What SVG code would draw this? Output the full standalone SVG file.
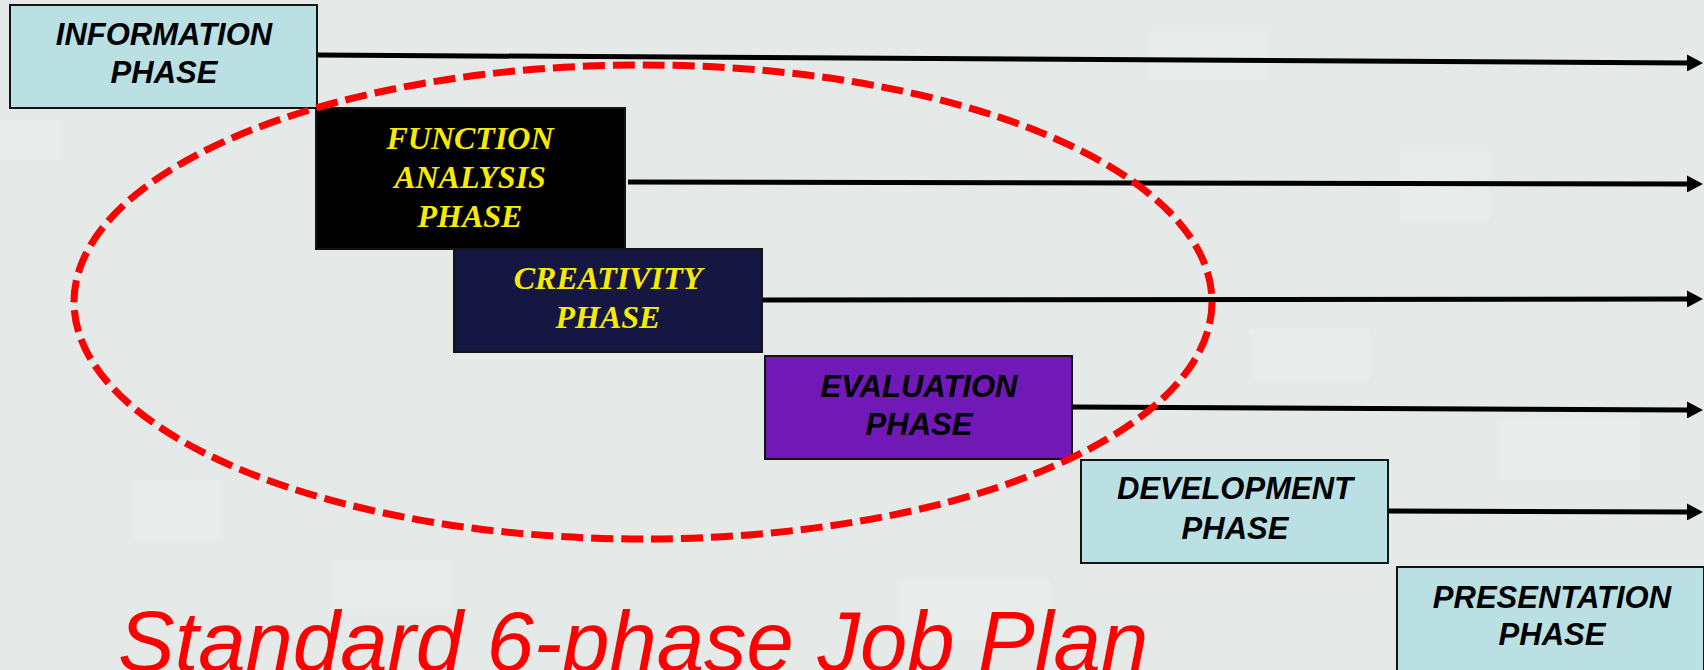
<svg xmlns="http://www.w3.org/2000/svg" width="1704" height="670" viewBox="0 0 1704 670">
  <style>
    .box { stroke: #141414; stroke-width: 2; }
    .light { fill: #bbe0e3; }
    .sans { font-family: "Liberation Sans", Arial, sans-serif; font-weight: bold; font-style: italic; font-size: 31px; fill: #000; text-anchor: middle; }
    .serif { font-family: "Liberation Serif", "Times New Roman", serif; font-weight: bold; font-style: italic; font-size: 32px; fill: #f8eb00; text-anchor: middle; }
    .conn { stroke: #000; stroke-width: 5; fill: none; marker-end: url(#arrow); }
    .title { font-family: "Liberation Sans", Arial, sans-serif; font-style: italic; font-size: 85px; fill: #ff0000; }
  </style>
  <defs>
    <marker id="arrow" markerUnits="userSpaceOnUse" markerWidth="16" markerHeight="17" refX="2" refY="8.5" orient="auto" viewBox="0 0 16 17">
      <path d="M0,0 L16,8.5 L0,17 z" fill="#000"/>
    </marker>
  </defs>

  <rect x="0" y="0" width="1704" height="670" fill="#e5e9e7"/>
  <g id="background-texture" fill="#eef1ef" opacity="0.4">
    <rect x="0" y="120" width="60" height="40"/>
    <rect x="130" y="480" width="90" height="60"/>
    <rect x="330" y="560" width="120" height="50"/>
    <rect x="1150" y="30" width="120" height="50"/>
    <rect x="1400" y="150" width="90" height="70"/>
    <rect x="1250" y="330" width="120" height="50"/>
    <rect x="1500" y="420" width="140" height="60"/>
    <rect x="900" y="580" width="150" height="60"/>
  </g>

  <g id="connectors">
    <line class="conn" x1="317" y1="55" x2="1689" y2="63"/>
    <line class="conn" x1="628" y1="182" x2="1689" y2="184"/>
    <line class="conn" x1="762" y1="300" x2="1689" y2="299"/>
    <line class="conn" x1="1072" y1="407" x2="1689" y2="410"/>
    <line class="conn" x1="1388" y1="511" x2="1689" y2="512"/>
  </g>

  <g id="information-phase">
    <rect class="box light" x="10" y="5" width="307" height="103"/>
    <text class="sans" x="164" y="45">INFORMATION</text>
    <text class="sans" x="164" y="83">PHASE</text>
  </g>

  <g id="function-analysis-phase">
    <rect class="box" x="316" y="108" width="309" height="141" fill="#000"/>
    <text class="serif" x="470" y="149">FUNCTION</text>
    <text class="serif" x="470" y="188">ANALYSIS</text>
    <text class="serif" x="470" y="227">PHASE</text>
  </g>

  <g id="creativity-phase">
    <rect class="box" x="454" y="249" width="308" height="103" fill="#161643"/>
    <text class="serif" x="608" y="289">CREATIVITY</text>
    <text class="serif" x="608" y="328">PHASE</text>
  </g>

  <g id="evaluation-phase">
    <rect class="box" x="765" y="356" width="307" height="103" fill="#7119b7"/>
    <text class="sans" x="919" y="397">EVALUATION</text>
    <text class="sans" x="919" y="435">PHASE</text>
  </g>

  <g id="development-phase">
    <rect class="box light" x="1081" y="460" width="307" height="103"/>
    <text class="sans" x="1235" y="499">DEVELOPMENT</text>
    <text class="sans" x="1235" y="539">PHASE</text>
  </g>

  <g id="presentation-phase">
    <rect class="box light" x="1397" y="567" width="307" height="104"/>
    <text class="sans" x="1552" y="608">PRESENTATION</text>
    <text class="sans" x="1552" y="645">PHASE</text>
  </g>

  <g id="highlight-ellipse">
    <ellipse cx="643" cy="302" rx="569" ry="237" fill="none" stroke="#ff0000" stroke-width="7" stroke-dasharray="22 8"/>
  </g>

  <g id="title">
    <text class="title" x="118" y="671">Standard 6-phase Job Plan</text>
  </g>
</svg>
